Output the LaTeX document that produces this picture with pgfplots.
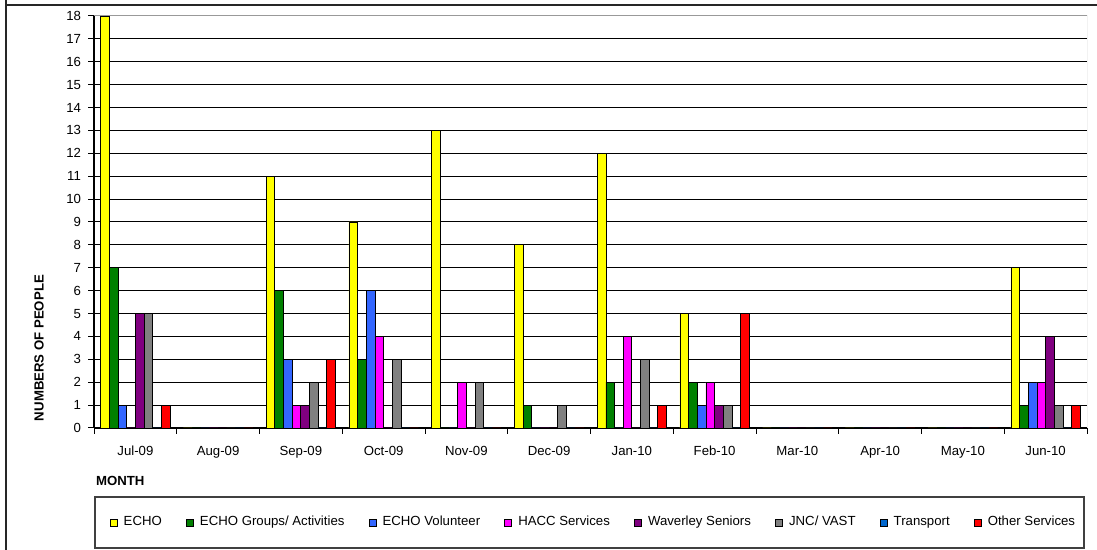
\documentclass[border=0pt]{standalone}
\usepackage{fontspec}
\setmainfont{Liberation Sans}
\usepackage{pgfplots}
\usepackage{pgfplotstable}
\pgfplotsset{compat=1.18}

\definecolor{cEcho}{HTML}{FFFF00}
\definecolor{cGroups}{HTML}{008000}
\definecolor{cVol}{HTML}{3366FF}
\definecolor{cHacc}{HTML}{FF00FF}
\definecolor{cWav}{HTML}{800080}
\definecolor{cJnc}{HTML}{808080}
\definecolor{cTrans}{HTML}{0066CC}
\definecolor{cOther}{HTML}{FF0000}

% month index: 0=Jul-09 ... 11=Jun-10
\pgfplotstableread{
x echo groups vol hacc wav jnc trans other
0  18 7 1 0 5 5 0 1
1  0  0 0 0 0 0 0 0
2  11 6 3 1 1 2 0 3
3  9  3 6 4 0 3 0 0
4  13 0 0 2 0 2 0 0
5  8  1 0 0 0 1 0 0
6  12 2 0 4 0 3 0 1
7  5  2 1 2 1 1 0 5
8  0  0 0 0 0 0 0 0
9  0  0 0 0 0 0 0 0
10 0  0 0 0 0 0 0 0
11 7  1 2 2 4 1 0 1
}\data

\newcommand{\sz}{\fontsize{6.6}{8}\selectfont}

\begin{document}
\begin{tikzpicture}
\useasboundingbox (0,0) rectangle (548.5pt,275pt);
% outer chart frame (only top and left edges visible)
\draw[black!85, line width=0.75pt] (3pt,275pt) -- (3pt,272.5pt) -- (548.5pt,272.5pt);
\draw[black!85, line width=0.75pt] (3pt,0pt) -- (3pt,272.5pt);

\begin{axis}[
  at={(47pt,61pt)}, anchor=south west,
  scale only axis,
  width=496.5pt, height=206pt,
  ybar=0pt, bar width=4.33pt,
  xmin=-0.5, xmax=11.5,
  ymin=0, ymax=18,
  ytick={0,1,...,18},
  xtick={0,...,11},
  xticklabels={Jul-09,Aug-09,Sep-09,Oct-09,Nov-09,Dec-09,Jan-10,Feb-10,Mar-10,Apr-10,May-10,Jun-10},
  minor xtick={-0.5,0.5,...,11.5},
  major x tick style={draw=none},
  tick align=outside,
  major tick length=3pt, minor tick length=3pt,
  tick style={black, line width=0.5pt},
  axis x line*=bottom, axis y line*=left,
  axis line style={black, line width=0.6pt, -},
  ymajorgrids, major grid style={black, line width=0.5pt},
  /pgf/number format/assume math mode=true,
  tick label style={font=\sz},
  xticklabel style={yshift=-2.2pt, text height=5pt, text depth=1.4pt},
  ylabel={\textbf{NUMBERS OF PEOPLE}},
  ylabel style={font=\sz, at={(rel axis cs:-0.0554,0.194)}, anchor=center, rotate=0},
  xlabel={\textbf{MONTH}},
  xlabel style={font=\sz, at={(rel axis cs:0,0)}, anchor=west, xshift=-2.5pt, yshift=-26.5pt},
  legend columns=8,
  legend style={draw=none, fill=none, font=\sz, at={(rel axis cs:0.497,0)}, anchor=center,
    xshift=3pt, yshift=-47.25pt,
    /tikz/every even column/.append style={column sep=11.15pt},
    /tikz/every odd column/.append style={column sep=2pt},
    nodes={inner sep=1pt}},
  legend image code/.code={\draw[#1, draw=black, line width=0.4pt] (0pt,-1.75pt) rectangle (3.5pt,1.75pt);},
  every axis plot/.append style={draw=black, line width=0.4pt},
]
\addplot[fill=cEcho]   table[x=x,y=echo]   {\data};
\addplot[fill=cGroups] table[x=x,y=groups] {\data};
\addplot[fill=cVol]    table[x=x,y=vol]    {\data};
\addplot[fill=cHacc]   table[x=x,y=hacc]   {\data};
\addplot[fill=cWav]    table[x=x,y=wav]    {\data};
\addplot[fill=cJnc]    table[x=x,y=jnc]    {\data};
\addplot[fill=cTrans]  table[x=x,y=trans]  {\data};
\addplot[fill=cOther]  table[x=x,y=other]  {\data};
\legend{ECHO,ECHO Groups/ Activities,ECHO Volunteer,HACC Services,Waverley Seniors,JNC/ VAST,Transport,Other Services}
% plot area border (grey, top and right)
\draw[black!40, line width=0.5pt] (rel axis cs:0,1) -- (rel axis cs:1,1) -- (rel axis cs:1,0);
\end{axis}
% legend box
\draw[black!75, line width=0.6pt] (47.5pt,1pt) rectangle (542pt,26.5pt);
\end{tikzpicture}
\end{document}
